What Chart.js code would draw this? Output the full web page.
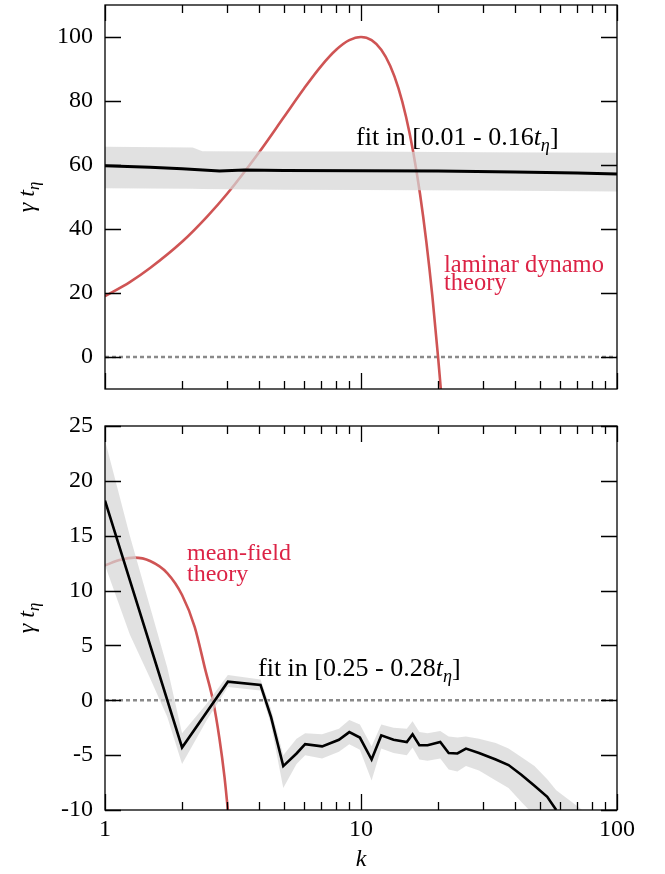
<!DOCTYPE html>
<html>
<head>
<meta charset="utf-8">
<script src="https://cdn.jsdelivr.net/npm/chart.js@4.4.1/dist/chart.umd.min.js"></script>
<style>
  body { margin: 0; background: #fff; }
  canvas { position: absolute; left: 0; }
  #top { top: 0; }
  #bot { top: 400px; }
</style>
</head>
<body>
<canvas id="top" width="665" height="400"></canvas>
<canvas id="bot" width="665" height="474"></canvas>
<script>
// x axis (k, log)
const kTicks = [1, 10, 100];
const kMinor = [2, 3, 4, 5, 6, 7, 8, 9, 20, 30, 40, 50, 60, 70, 80, 90];
const kZero = [1, 100];
const zeroLine = [0, 0];

// upper panel: fit in [0.01 - 0.16 t_eta]
const yTicksTop = [0, 20, 40, 60, 80, 100];
const kFitTop = [1, 1.5, 2, 2.8, 3.5, 5, 10, 20, 40, 70, 100];
const gammaFitTop = [59.8, 59.3, 58.8, 58.1, 58.4, 58.3, 58.2, 58.1, 57.8, 57.5, 57.2];
const kBandTop = [1, 2.2, 2.4, 5, 10, 30, 100];
const bandHiTop = [65.7, 65.5, 64.3, 64.2, 64.2, 64.0, 63.8];
const bandLoTop = [52.7, 52.6, 52.5, 52.3, 52.2, 52.0, 51.7];
const kLaminar = [1, 1.25, 1.5, 2, 2.5, 3, 4, 5, 6, 7, 8, 9, 10, 11, 12, 13, 14, 15, 16, 17, 18, 19, 20, 20.5];
const gammaLaminar = [19, 23.4, 27.8, 36, 43.8, 51, 64, 75, 84, 91, 96, 99, 100, 99, 96, 91, 84, 75, 64, 51, 36, 19, 0, -10];

// lower panel: fit in [0.25 - 0.28 t_eta]
const yTicksBot = [-10, -5, 0, 5, 10, 15, 20, 25];
const kFitBot = [1, 2, 3.02, 4.05, 4.45, 4.97, 5.6, 6.05, 7.05, 8.2, 9, 9.9, 11, 12, 13.4, 15.1, 15.9, 16.9, 18.2, 20.4, 22, 23.8, 25.7, 28.9, 33.6, 37.7, 42.4, 47.6, 53.4, 57.9];
const gammaFitBot = [18.2, -4.3, 1.7, 1.4, -1.5, -6.0, -4.85, -4.0, -4.2, -3.6, -2.9, -3.4, -5.4, -3.2, -3.6, -3.8, -3.1, -4.1, -4.1, -3.8, -4.8, -4.85, -4.4, -4.8, -5.4, -5.9, -6.8, -7.8, -8.8, -10];
const kBandBot = [1, 1.25, 1.5, 1.75, 2, 2.5, 3.02, 4.05, 4.45, 4.97, 5.6, 6.05, 7.05, 8.2, 9, 9.9, 11, 12, 13.4, 15.1, 15.9, 16.9, 18.2, 20.4, 22, 23.8, 25.7, 28.9, 33.6, 37.7, 42.4, 47.6, 53.4, 57.9, 66, 76];
const bandHiBot = [23.7, 15.0, 8.5, 3.0, -3.0, -0.3, 2.3, 1.9, -0.8, -5.0, -3.5, -3.0, -3.1, -2.6, -1.8, -2.2, -4.2, -2.2, -2.5, -2.6, -1.9, -2.9, -3.0, -2.8, -3.3, -3.4, -3.3, -3.5, -3.9, -4.4, -5.2, -6.0, -7.2, -8.2, -9.2, -10.3];
const bandLoBot = [12.3, 6.0, 2.0, -1.5, -5.8, -1.8, 1.2, 0.9, -2.2, -8.0, -5.8, -5.0, -5.3, -4.7, -4.0, -4.5, -7.3, -4.4, -4.8, -5.0, -4.3, -5.4, -5.5, -5.3, -6.3, -6.5, -6.0, -6.4, -7.3, -8.0, -9.3, -10.5, -12, -13, -14, -15];
const kMeanField = [1, 1.15, 1.3, 1.5, 1.75, 2, 2.24, 2.47, 2.64, 2.8, 2.93, 3.02];
const gammaMeanField = [12.3, 12.8, 13.0, 12.7, 11.6, 9.6, 6.7, 2.7, 0, -3.5, -7, -10];

const serif = '"Liberation Serif", "DejaVu Serif", serif';
const red = '#cf5454';
const noteRed = '#dc2346';

const pts = (xs, ys) => xs.map((k, i) => ({ x: k, y: ys[i] }));

// text with italic / subscript pieces
function drawRich(ctx, parts, x, y, size, color, align) {
  ctx.save();
  ctx.fillStyle = color;
  ctx.textBaseline = 'alphabetic';
  ctx.textAlign = 'left';
  const fontOf = p => (p.it ? 'italic ' : '') + (p.sub ? size * 0.7 : size) + 'px ' + serif;
  let w = 0;
  for (const p of parts) { ctx.font = fontOf(p); w += ctx.measureText(p.t).width; }
  let cx = align === 'center' ? x - w / 2 : x;
  for (const p of parts) {
    ctx.font = fontOf(p);
    ctx.fillText(p.t, cx, y + (p.sub ? size * 0.22 : 0));
    cx += ctx.measureText(p.t).width;
  }
  ctx.restore();
}

const yTitle = [{ t: 'γ', it: true }, { t: ' t', it: true }, { t: 'η', it: true, sub: true }];

// frame, inside ticks, notes, y title
const frameTicks = {
  id: 'frameTicks',
  afterDatasetsDraw(chart, args, o) {
    const { ctx, chartArea: a, scales: { x, y } } = chart;
    ctx.save();
    ctx.strokeStyle = '#000';
    ctx.lineWidth = 1.3;
    ctx.strokeRect(a.left, a.top, a.right - a.left, a.bottom - a.top);
    ctx.beginPath();
    for (const v of o.yTicks) {
      const py = Math.round(y.getPixelForValue(v)) + 0.5;
      ctx.moveTo(a.left, py); ctx.lineTo(a.left + 16, py);
      ctx.moveTo(a.right, py); ctx.lineTo(a.right - 16, py);
    }
    for (const v of kTicks) {
      const px = Math.round(x.getPixelForValue(v)) + 0.5;
      ctx.moveTo(px, a.top); ctx.lineTo(px, a.top + 16);
      ctx.moveTo(px, a.bottom); ctx.lineTo(px, a.bottom - 16);
    }
    for (const v of kMinor) {
      const px = Math.round(x.getPixelForValue(v)) + 0.5;
      ctx.moveTo(px, a.top); ctx.lineTo(px, a.top + 8);
      ctx.moveTo(px, a.bottom); ctx.lineTo(px, a.bottom - 8);
    }
    ctx.stroke();
    ctx.restore();

    for (const n of o.notes) {
      drawRich(ctx, n.parts, x.getPixelForValue(n.k), y.getPixelForValue(n.g), n.size, n.color);
    }

    ctx.save();
    ctx.translate(27, (a.top + a.bottom) / 2);
    ctx.rotate(-Math.PI / 2);
    drawRich(ctx, yTitle, 0, 7, 24, '#000', 'center');
    ctx.restore();
  }
};

const noPad = s => { s.paddingTop = 0; s.paddingBottom = 0; s.paddingLeft = 0; s.paddingRight = 0; };

function makeChart(id, cfg) {
  return new Chart(document.getElementById(id), {
    type: 'line',
    data: {
      datasets: [
        { data: pts(cfg.kFit, cfg.gFit), borderColor: '#000', borderWidth: cfg.fitWidth, pointRadius: 0, tension: 0 },
        { data: pts(cfg.kBand, cfg.bandHi), borderWidth: 0, pointRadius: 0, fill: '+1', backgroundColor: 'rgba(214,214,214,0.72)' },
        { data: pts(cfg.kBand, cfg.bandLo), borderWidth: 0, pointRadius: 0, fill: false },
        { data: pts(cfg.kTh, cfg.gTh), borderColor: red, borderWidth: 2.6, pointRadius: 0, cubicInterpolationMode: 'monotone' },
        { data: pts(kZero, zeroLine), borderColor: '#8a8a8a', borderWidth: 2.6, borderDash: [4, 3], pointRadius: 0 }
      ]
    },
    options: {
      responsive: false,
      animation: false,
      events: [],
      layout: { padding: { top: cfg.padTop, right: 48, left: 0, bottom: 0 } },
      plugins: {
        legend: { display: false },
        tooltip: { enabled: false },
        frameTicks: { yTicks: cfg.yTicks, notes: cfg.notes }
      },
      scales: {
        x: {
          type: 'logarithmic', min: 1, max: 100,
          afterBuildTicks: s => { s.ticks = kTicks.map(v => ({ value: v })); },
          afterFit: s => { s.height = cfg.xHeight; noPad(s); },
          grid: { display: false, drawTicks: false },
          border: { display: false },
          ticks: { display: cfg.showX, color: '#000', padding: 5, maxRotation: 0, font: { family: serif, size: 24 }, callback: v => String(v) },
          title: { display: cfg.showX, text: 'k', color: '#000', padding: 0, font: { family: serif, size: 24, style: 'italic' } }
        },
        y: {
          min: cfg.yMin, max: cfg.yMax,
          afterBuildTicks: s => { s.ticks = cfg.yTicks.map(v => ({ value: v })); },
          afterFit: s => { s.width = 105; noPad(s); },
          grid: { display: false, drawTicks: false },
          border: { display: false },
          ticks: { color: '#000', padding: 12, font: { family: serif, size: 24 } }
        }
      }
    },
    plugins: [frameTicks]
  });
}

makeChart('top', {
  kFit: kFitTop, gFit: gammaFitTop, fitWidth: 3,
  kBand: kBandTop, bandHi: bandHiTop, bandLo: bandLoTop,
  kTh: kLaminar, gTh: gammaLaminar,
  yTicks: yTicksTop, yMin: -10, yMax: 110,
  padTop: 5, xHeight: 11, showX: false,
  notes: [
    { k: 9.56, g: 66.2, size: 26, color: '#000', parts: [{ t: 'fit in [0.01 - 0.16' }, { t: 't', it: true }, { t: 'η', it: true, sub: true }, { t: ']' }] },
    { k: 21.1, g: 26.6, size: 24.5, color: noteRed, parts: [{ t: 'laminar dynamo' }] },
    { k: 21.1, g: 20.8, size: 24.5, color: noteRed, parts: [{ t: 'theory' }] }
  ]
});

makeChart('bot', {
  kFit: kFitBot, gFit: gammaFitBot, fitWidth: 2.6,
  kBand: kBandBot, bandHi: bandHiBot, bandLo: bandLoBot,
  kTh: kMeanField, gTh: gammaMeanField,
  yTicks: yTicksBot, yMin: -10, yMax: 25,
  padTop: 26, xHeight: 64, showX: true,
  notes: [
    { k: 3.96, g: 2.2, size: 26, color: '#000', parts: [{ t: 'fit in [0.25 - 0.28' }, { t: 't', it: true }, { t: 'η', it: true, sub: true }, { t: ']' }] },
    { k: 2.09, g: 12.8, size: 24, color: noteRed, parts: [{ t: 'mean-field' }] },
    { k: 2.09, g: 10.9, size: 24, color: noteRed, parts: [{ t: 'theory' }] }
  ]
});
</script>
</body>
</html>
